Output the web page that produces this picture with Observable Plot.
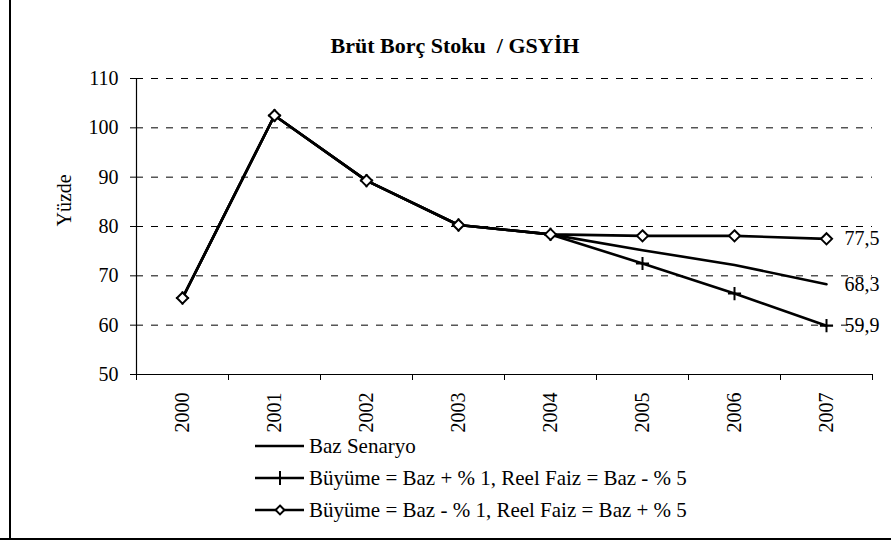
<!DOCTYPE html>
<html>
<head>
<meta charset="utf-8">
<script src="https://cdn.jsdelivr.net/npm/d3@7"></script>
<script src="https://cdn.jsdelivr.net/npm/@observablehq/plot@0.6"></script>
<style>
  html, body { margin: 0; padding: 0; background: white; }
  #chart svg text { font-family: "Liberation Serif", "DejaVu Serif", serif; }
</style>
</head>
<body>
<div id="chart"></div>
<script>
const title = "Brüt Borç Stoku  / GSYİH";
const yLabel = "Yüzde";
const years = [2000, 2001, 2002, 2003, 2004, 2005, 2006, 2007];
const bazSenaryo = [65.5, 102.5, 89.3, 80.3, 78.4, 75.2, 72.2, 68.3];
const buyumeArti = [65.5, 102.5, 89.3, 80.3, 78.4, 72.5, 66.4, 59.9];
const buyumeEksi = [65.5, 102.5, 89.3, 80.3, 78.4, 78.1, 78.1, 77.5];
const seriesNames = [
  "Baz Senaryo",
  "Büyüme = Baz + % 1, Reel Faiz = Baz - % 5",
  "Büyüme = Baz - % 1, Reel Faiz = Baz + % 5"
];
const endLabels = ["68,3", "59,9", "77,5"];
const yTicks = [50, 60, 70, 80, 90, 100, 110];
const gridValues = [60, 70, 80, 90, 100, 110];

const FONT = '"Liberation Serif", "DejaVu Serif", serif';
const boundaries = years.map(y => y - 0.5).concat([years[years.length - 1] + 0.5]);

const rowsBaz = years.map((y, i) => ({year: y, value: bazSenaryo[i]}));
const rowsArti = years.map((y, i) => ({year: y, value: buyumeArti[i]}));
const rowsEksi = years.map((y, i) => ({year: y, value: buyumeEksi[i]}));
const last = years.length - 1;
const endRows = [
  {year: years[last], value: bazSenaryo[last], label: endLabels[0]},
  {year: years[last], value: buyumeArti[last], label: endLabels[1]},
  {year: years[last], value: buyumeEksi[last], label: endLabels[2]}
];

const LW = 2.6;

const chart = Plot.plot({
  width: 891,
  height: 540,
  marginLeft: 136,
  marginRight: 19,
  marginTop: 78,
  marginBottom: 166,
  style: {fontFamily: FONT, fontSize: "20px", background: "white", color: "black"},
  x: {type: "linear", domain: [boundaries[0], boundaries[boundaries.length - 1]]},
  y: {domain: [50, 110]},
  marks: [
    Plot.ruleY(gridValues, {stroke: "black", strokeWidth: 1, strokeDasharray: "7,8"}),
    Plot.ruleX([boundaries[0]], {y1: 50, y2: 110, stroke: "black", strokeWidth: 1.2}),
    Plot.ruleY([50], {stroke: "black", strokeWidth: 1.2}),
    Plot.axisY({ticks: yTicks, tickSize: 6, tickPadding: 12, label: null, fontSize: 20, tickFormat: d => String(d)}),
    Plot.axisX({ticks: boundaries, tickSize: 6, label: null, tickFormat: () => ""}),
    Plot.text(years, {x: d => d, y: 50, dy: 18, rotate: -90, textAnchor: "end", text: d => String(d), fontSize: 20}),
    Plot.text([yLabel], {frameAnchor: "left", dx: -72, rotate: -90, text: d => d, fontSize: 20}),
    Plot.line(rowsBaz, {x: "year", y: "value", stroke: "black", strokeWidth: LW}),
    Plot.line(rowsArti, {x: "year", y: "value", stroke: "black", strokeWidth: LW}),
    Plot.dot(rowsArti, {x: "year", y: "value", symbol: "plus", r: 4.3, stroke: "black", strokeWidth: 2}),
    Plot.line(rowsEksi, {x: "year", y: "value", stroke: "black", strokeWidth: LW}),
    Plot.dot(rowsEksi, {x: "year", y: "value", symbol: "diamond2", r: 5, fill: "white", stroke: "black", strokeWidth: 2}),
    Plot.text(endRows, {x: "year", y: "value", text: "label", dx: 18, textAnchor: "start", fontSize: 20})
  ]
});

const svg = d3.select(chart);
// title
svg.append("text")
  .attr("x", 455).attr("y", 53)
  .attr("text-anchor", "middle")
  .attr("font-weight", "bold").attr("font-size", 22)
  .text(title);
// border
svg.append("line").attr("x1", 10).attr("x2", 10).attr("y1", 0).attr("y2", 540).attr("stroke", "black").attr("stroke-width", 2);
svg.append("line").attr("x1", 0).attr("x2", 891).attr("y1", 539).attr("y2", 539).attr("stroke", "black").attr("stroke-width", 2);
// legend
const legendY = [446, 478, 510];
const legendSymbols = [null, d3.symbolPlus, d3.symbolDiamond2];
seriesNames.forEach((name, i) => {
  const g = svg.append("g");
  g.append("line").attr("x1", 255).attr("x2", 304).attr("y1", legendY[i]).attr("y2", legendY[i])
    .attr("stroke", "black").attr("stroke-width", LW);
  if (legendSymbols[i]) {
    const isPlus = legendSymbols[i] === d3.symbolPlus;
    g.append("path")
      .attr("transform", `translate(280,${legendY[i]})`)
      .attr("d", d3.symbol(legendSymbols[i], isPlus ? 64 : 50)())
      .attr("fill", isPlus ? "none" : "white")
      .attr("stroke", "black").attr("stroke-width", 2);
  }
  g.append("text").attr("x", 309).attr("y", legendY[i]).attr("dy", "0.32em")
    .attr("text-anchor", "start")
    .attr("font-size", 21).text(name);
});

document.getElementById("chart").appendChild(chart);
</script>
</body>
</html>
